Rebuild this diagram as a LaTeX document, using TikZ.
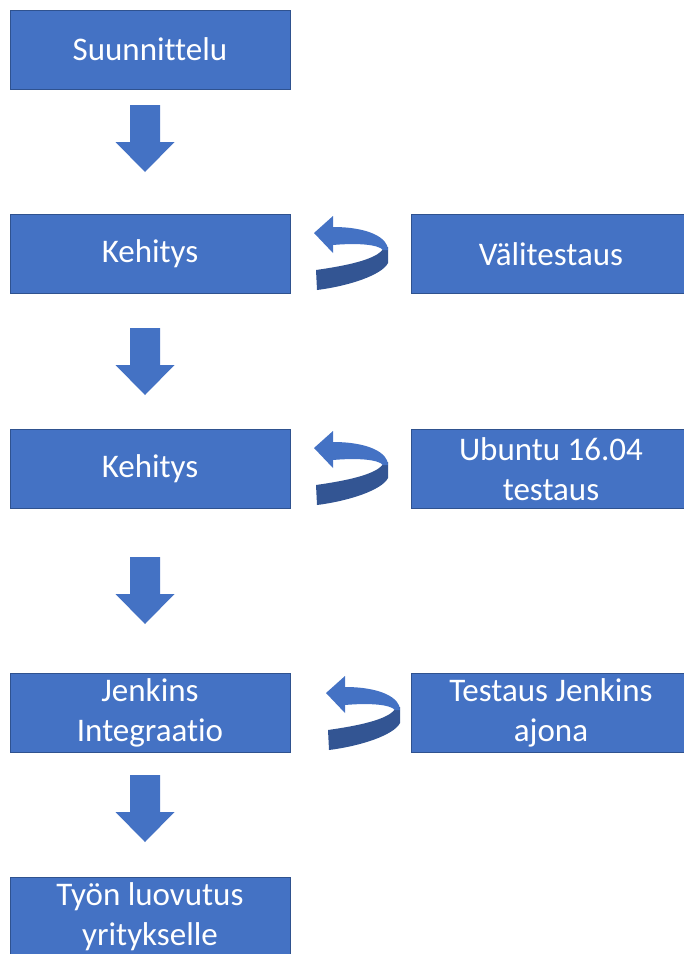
\documentclass[tikz,border=0pt]{standalone}
\usepackage{fontspec}
\setmainfont[Ligatures=NoCommon]{Carlito}
\definecolor{boxfill}{HTML}{4472C4}
\definecolor{boxline}{HTML}{2F528F}
\colorlet{ribbondark}{boxfill!75!black}
\begin{document}
\begin{tikzpicture}[x=1pt,y=-1pt,
  block/.style={draw=boxline,line width=0.8pt,fill=boxfill,text=white,
    minimum width=280pt,minimum height=79pt,inner sep=0pt,align=center,
    font=\fontsize{33}{40}\selectfont},
  pics/downarrow/.style={code={
    \fill[boxfill] (-15,0) -- (15,0) -- (15,37) -- (29.5,37) -- (0,67)
      -- (-29.5,37) -- (-15,37) -- cycle;}},
  pics/backarrow/.style={code={
    \fill[ribbondark] (2,37) .. controls (30,33) and (62,27) .. (69,16)
      -- (74,14) -- (74,30) .. controls (68,42) and (35,53) .. (3,57) -- cycle;
    \fill[boxfill] (0,0) -- (19,-17) -- (19,-6) .. controls (55,-6) and (74,5) .. (74,17)
      -- (69,17) .. controls (64,11) and (41,10) .. (19,12) -- (19,20) -- cycle;}}]
\useasboundingbox (0,0) rectangle (684,954);

\node[block] (s1) at (150,49.5) {Suunnittelu};
\node[block] (k1) at (150,254) {Kehitys};
\node[block] (v1) at (551,254) {Välitestaus};
\node[block] (k2) at (150,469) {Kehitys};
\node[block] (u1) at (551,469) {Ubuntu 16.04\\testaus};
\node[block] (j1) at (150,713) {Jenkins\\Integraatio};
\node[block] (t1) at (551,713) {Testaus Jenkins\\ajona};
\node[block] (y1) at (150,916.5) {Työn luovutus\\yritykselle};

\pic (a1) at (145,105) {downarrow};
\pic (a2) at (145,328) {downarrow};
\pic (a3) at (145,557) {downarrow};
\pic (a4) at (145,775) {downarrow};

\pic (b1) at (314,233) {backarrow};
\pic (b2) at (314,448) {backarrow};
\pic (b3) at (326,693) {backarrow};
\end{tikzpicture}
\end{document}
